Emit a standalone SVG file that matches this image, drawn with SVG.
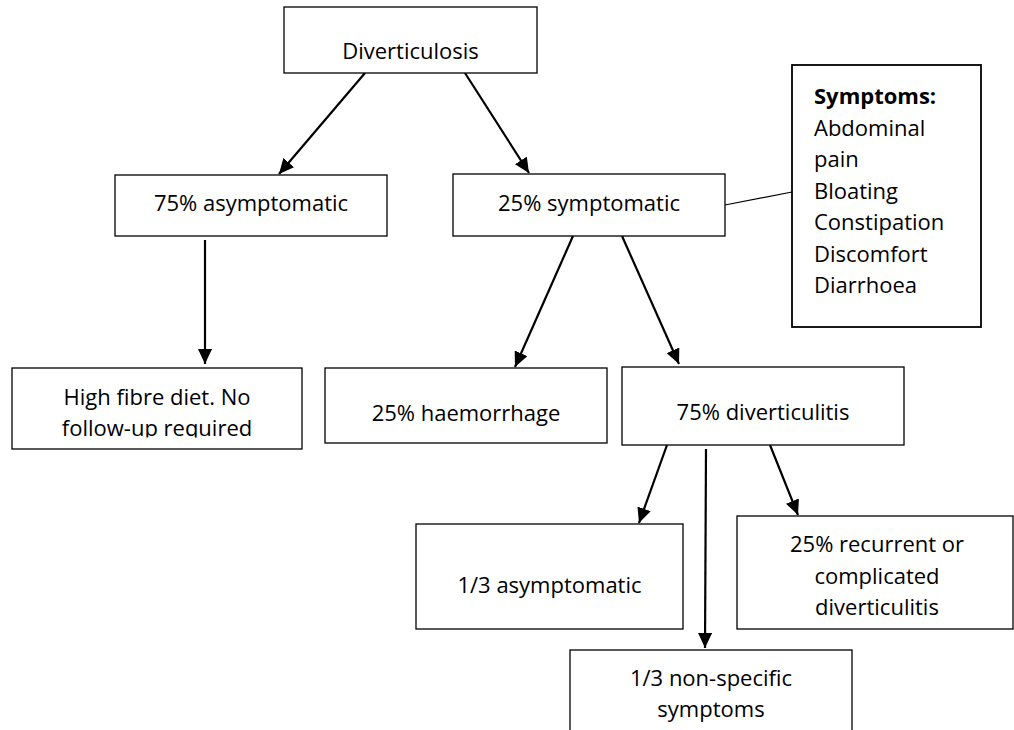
<svg xmlns="http://www.w3.org/2000/svg" width="1014" height="730" viewBox="0 0 1014 730">
<style>
.box{fill:#fff;stroke:#000;stroke-width:1.3}
.t{font-family:"Open Sans","Noto Sans","Liberation Sans",sans-serif;font-size:22px;fill:#000;text-anchor:middle}
.l{text-anchor:start}
.b{font-weight:bold}
.arr{stroke:#000;stroke-width:2.2;fill:none;marker-end:url(#ah)}
.ln{stroke:#000;stroke-width:1.2;fill:none}
</style>
<defs>
<marker id="ah" markerUnits="userSpaceOnUse" markerWidth="16" markerHeight="14" refX="15" refY="7" orient="auto" viewBox="0 0 16 14">
<path d="M0,0 L15,7 L0,14 z" fill="#000"/>
</marker>
<clipPath id="hfclip"><rect x="12" y="368" width="290" height="69.5"/></clipPath>
</defs>
<rect width="1014" height="730" fill="#fff"/>
<g id="connectors">
<line class="arr" x1="365" y1="73" x2="279" y2="174"/>
<line class="arr" x1="465" y1="73" x2="529" y2="173"/>
<line class="arr" x1="205" y1="240" x2="205" y2="364"/>
<line class="arr" x1="573" y1="236" x2="515" y2="367"/>
<line class="arr" x1="622" y1="236" x2="679" y2="364"/>
<line class="arr" x1="667" y1="445" x2="639" y2="523"/>
<line class="arr" x1="706" y1="449" x2="705" y2="648"/>
<line class="arr" x1="770" y1="445" x2="798" y2="515"/>
<line class="ln" x1="725" y1="205" x2="792" y2="192"/>
</g>
<g id="n-diverticulosis">
<rect class="box" x="284" y="7" width="253" height="66"/>
<text class="t" x="410.5" y="59">Diverticulosis</text>
</g>
<g id="n-asymptomatic75">
<rect class="box" x="115" y="175" width="272" height="61"/>
<text class="t" x="251" y="211">75% asymptomatic</text>
</g>
<g id="n-symptomatic25">
<rect class="box" x="453" y="174" width="272" height="62"/>
<text class="t" x="589" y="211">25% symptomatic</text>
</g>
<g id="n-symptoms">
<rect class="box" x="792" y="65" width="189" height="262" style="stroke-width:1.8"/>
<text class="t l b" x="814" y="104">Symptoms:</text>
<text class="t l" x="814" y="135.5">Abdominal</text>
<text class="t l" x="814" y="167">pain</text>
<text class="t l" x="814" y="198.5">Bloating</text>
<text class="t l" x="814" y="230">Constipation</text>
<text class="t l" x="814" y="261.5">Discomfort</text>
<text class="t l" x="814" y="293">Diarrhoea</text>
</g>
<g id="n-highfibre">
<rect class="box" x="12" y="368" width="290" height="81"/>
<g clip-path="url(#hfclip)">
<text class="t" x="157" y="405">High fibre diet. No</text>
<text class="t" x="157" y="436">follow-up required</text>
</g>
</g>
<g id="n-haemorrhage">
<rect class="box" x="325" y="368" width="282" height="75"/>
<text class="t" x="466" y="421">25% haemorrhage</text>
</g>
<g id="n-diverticulitis">
<rect class="box" x="622" y="367" width="282" height="78"/>
<text class="t" x="763" y="420">75% diverticulitis</text>
</g>
<g id="n-asymptomatic13">
<rect class="box" x="416" y="524" width="267" height="105"/>
<text class="t" x="549.5" y="593">1/3 asymptomatic</text>
</g>
<g id="n-recurrent">
<rect class="box" x="737" y="516" width="276" height="113"/>
<text class="t" x="877" y="552">25% recurrent or</text>
<text class="t" x="877" y="583.5">complicated</text>
<text class="t" x="877" y="615">diverticulitis</text>
</g>
<g id="n-nonspecific">
<rect class="box" x="570" y="650" width="282" height="90"/>
<text class="t" x="711" y="686">1/3 non-specific</text>
<text class="t" x="711" y="717">symptoms</text>
</g>
</svg>
